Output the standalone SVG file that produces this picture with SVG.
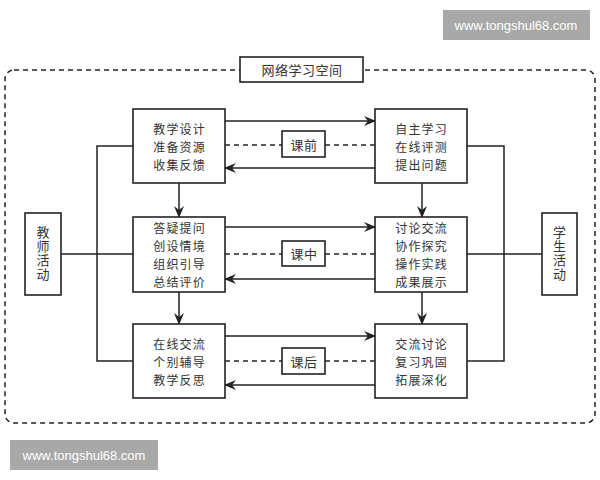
<svg xmlns="http://www.w3.org/2000/svg" width="600" height="480" viewBox="0 0 600 480">
<style>
.box{fill:#fff;stroke:#222;stroke-width:1.6}
.ln{fill:none;stroke:#222;stroke-width:1.5}
.ds{fill:none;stroke:#222;stroke-width:1.5;stroke-dasharray:5 4}
.t{font-family:"Noto Sans CJK SC","Noto Sans",sans-serif;font-size:12px;letter-spacing:1.2px;fill:#333;text-anchor:middle;dominant-baseline:central}
.v{font-family:"Noto Sans CJK SC","Noto Sans",sans-serif;font-size:13px;fill:#333;text-anchor:middle;writing-mode:vertical-rl;letter-spacing:1px}
.wm{font-family:"Liberation Sans",sans-serif;font-size:13px;fill:#fff;text-anchor:middle;dominant-baseline:central}
</style>
<defs>
<marker id="ar" viewBox="0 0 12 10" refX="11" refY="5" markerWidth="12" markerHeight="10" markerUnits="userSpaceOnUse" orient="auto">
<path d="M0,0 L12,5 L0,10 L4,5 z" fill="#222"/>
</marker>
</defs>
<rect width="600" height="480" fill="#fff"/>
<rect x="443" y="10" width="147" height="30" fill="#a8a8a8"/>
<text class="wm" x="516" y="25">www.tongshul68.com</text>
<rect x="10" y="440" width="148" height="30" fill="#a8a8a8"/>
<text class="wm" x="84" y="455">www.tongshul68.com</text>
<rect x="5" y="70" width="590" height="353" rx="9" class="ds"/>
<g id="title"><rect x="240" y="57" width="123" height="25" class="box"/><text class="t" x="302" y="69.5" style="font-size:13px;letter-spacing:0.5px">网络学习空间</text></g>
<g id="connectors">
<path class="ln" d="M133,146 H97 V361 H133 M61,254 H133"/>
<path class="ln" d="M467,146 H504 V361 H467 M467,254 H542"/>
<path class="ln" d="M179,183 V217" marker-end="url(#ar)"/>
<path class="ln" d="M179,292 V324" marker-end="url(#ar)"/>
<path class="ln" d="M422,183 V217" marker-end="url(#ar)"/>
<path class="ln" d="M422,292 V324" marker-end="url(#ar)"/>
<path class="ln" d="M225,121 H375" marker-end="url(#ar)"/>
<path class="ln" d="M375,168 H225" marker-end="url(#ar)"/>
<path class="ln" d="M225,227 H375" marker-end="url(#ar)"/>
<path class="ln" d="M375,279 H225" marker-end="url(#ar)"/>
<path class="ln" d="M225,336 H375" marker-end="url(#ar)"/>
<path class="ln" d="M375,385 H225" marker-end="url(#ar)"/>
<path class="ds" d="M225,145 H282 M325,145 H375 M225,254 H282 M325,254 H375 M225,361 H282 M325,361 H375"/>
</g>
<g id="teacher"><rect x="25" y="213" width="36" height="82" class="box"/>
<text class="v" x="43" y="254">教师活动</text></g>
<g id="student"><rect x="542" y="213" width="35" height="82" class="box"/>
<text class="v" x="559.5" y="254">学生活动</text></g>
<g id="t1"><rect x="133" y="109" width="92" height="74" class="box"/>
<text class="t"><tspan x="179.6" y="128">教学设计</tspan><tspan x="179.6" y="146">准备资源</tspan><tspan x="179.6" y="164">收集反馈</tspan></text></g>
<g id="t2"><rect x="133" y="217" width="92" height="75" class="box"/>
<text class="t"><tspan x="179.6" y="227">答疑提问</tspan><tspan x="179.6" y="245">创设情境</tspan><tspan x="179.6" y="263">组织引导</tspan><tspan x="179.6" y="281">总结评价</tspan></text></g>
<g id="t3"><rect x="133" y="324" width="92" height="74" class="box"/>
<text class="t"><tspan x="179.6" y="343">在线交流</tspan><tspan x="179.6" y="361">个别辅导</tspan><tspan x="179.6" y="379">教学反思</tspan></text></g>
<g id="s1"><rect x="375" y="109" width="92" height="74" class="box"/>
<text class="t"><tspan x="421.6" y="128">自主学习</tspan><tspan x="421.6" y="146">在线评测</tspan><tspan x="421.6" y="164">提出问题</tspan></text></g>
<g id="s2"><rect x="375" y="217" width="92" height="75" class="box"/>
<text class="t"><tspan x="421.6" y="227">讨论交流</tspan><tspan x="421.6" y="245">协作探究</tspan><tspan x="421.6" y="263">操作实践</tspan><tspan x="421.6" y="281">成果展示</tspan></text></g>
<g id="s3"><rect x="375" y="324" width="92" height="74" class="box"/>
<text class="t"><tspan x="421.6" y="343">交流讨论</tspan><tspan x="421.6" y="361">复习巩固</tspan><tspan x="421.6" y="379">拓展深化</tspan></text></g>
<g id="l1"><rect x="282" y="131" width="43" height="26" class="box"/><text class="t" x="304" y="144" style="font-size:13px;letter-spacing:0.5px">课前</text></g>
<g id="l2"><rect x="282" y="241" width="43" height="25" class="box"/><text class="t" x="304" y="253.5" style="font-size:13px;letter-spacing:0.5px">课中</text></g>
<g id="l3"><rect x="282" y="348" width="43" height="26" class="box"/><text class="t" x="304" y="361" style="font-size:13px;letter-spacing:0.5px">课后</text></g>
</svg>
